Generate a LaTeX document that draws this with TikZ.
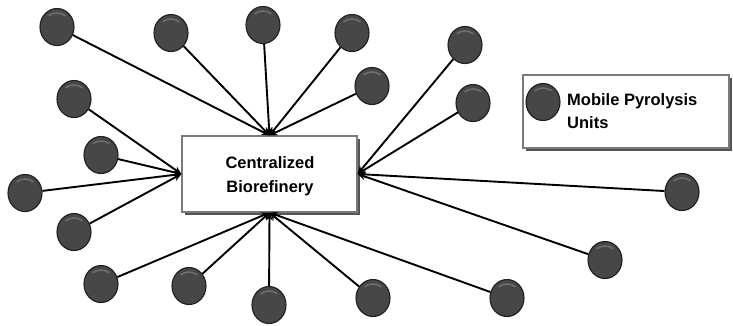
\documentclass[tikz,border=0pt]{standalone}
\usepackage{fontspec}
\setmainfont{Liberation Sans}
\usetikzlibrary{shapes.geometric,shadows,arrows.meta,calc}
\definecolor{ballfill}{HTML}{474747}
\definecolor{ballrim}{HTML}{1E1E1E}
\definecolor{ballshine}{HTML}{6E6E6E}
\definecolor{boxline}{HTML}{7A7A7A}
\definecolor{shadowc}{HTML}{555555}
\tikzset{
  unit/.style={ellipse, minimum width=34pt, minimum height=37pt, inner sep=0pt,
    fill=ballfill, draw=ballrim, line width=1.1pt,
    path picture={\draw[ballshine, line width=1.6pt, line cap=round]
      ($(path picture bounding box.center)+(125:14pt)$) arc[start angle=125,end angle=55,radius=14pt];}},
  panel/.style={draw=boxline, fill=white, line width=1.2pt,
    drop shadow={shadow xshift=3pt, shadow yshift=-3pt, fill=shadowc, opacity=1}},
  feed/.style={line width=1.9pt, -{Stealth[length=8pt,width=7pt]}},
  lbl/.style={font=\fontsize{16.5}{24}\selectfont\bfseries}
}
\begin{document}
\begin{tikzpicture}[x=1pt,y=-1pt]
\useasboundingbox (0,0) rectangle (733,325);
% central box
\node[panel, minimum width=175pt, minimum height=76pt, inner sep=0pt] (cb) at (269.5,174) {};
\node[lbl, align=center, inner sep=0pt] (cbt) at (270,176) {Centralized\\Biorefinery};
% legend
\node[panel, minimum width=206pt, minimum height=73pt, inner sep=0pt] (lg) at (626,111.5) {};
\node[unit] (lgu) at (543,102) {};
\node[lbl, align=left, anchor=west, inner sep=0pt, font=\fontsize{16.5}{23}\selectfont\bfseries] (lgt) at (567,111) {Mobile Pyrolysis\\Units};
% units
\node[unit] (u1) at (57,27) {};
\node[unit] (u2) at (171,33) {};
\node[unit] (u3) at (263,25) {};
\node[unit] (u4) at (352,33) {};
\node[unit] (u5) at (372,86) {};
\node[unit] (u6) at (465,45) {};
\node[unit] (u7) at (473,103) {};
\node[unit] (u8) at (74,99) {};
\node[unit] (u9) at (101,155) {};
\node[unit] (u10) at (25,193) {};
\node[unit] (u11) at (74,232) {};
\node[unit] (u12) at (101,284) {};
\node[unit] (u13) at (189,286) {};
\node[unit] (u14) at (269,305) {};
\node[unit] (u15) at (373,298) {};
\node[unit] (u16) at (507,298) {};
\node[unit] (u17) at (605,260) {};
\node[unit] (u18) at (682,192) {};
% connectors
\foreach \u in {u1,u2,u3,u4,u5}{\draw[feed] (\u) -- (cb.north);}
\foreach \u in {u8,u9,u10,u11}{\draw[feed] (\u) -- (cb.west);}
\foreach \u in {u6,u7,u17,u18}{\draw[feed] (\u) -- (cb.east);}
\foreach \u in {u12,u13,u14,u15,u16}{\draw[feed] (\u) -- (cb.south);}
\end{tikzpicture}
\end{document}
